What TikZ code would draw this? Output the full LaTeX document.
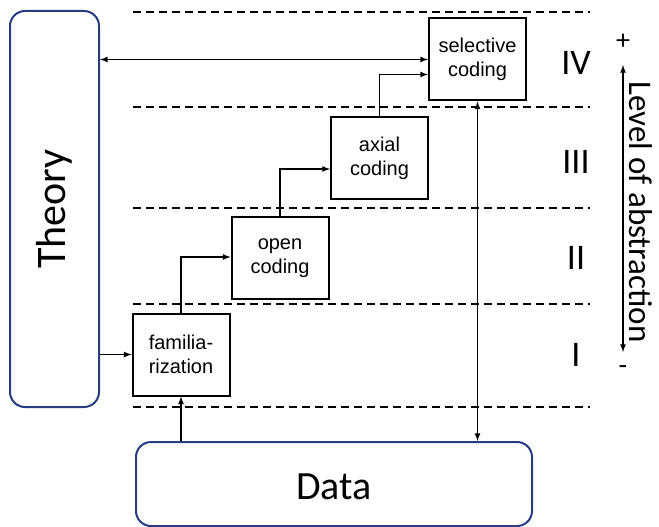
\documentclass[tikz,border=0pt]{standalone}
\usepackage{fontspec}
\setmainfont{Carlito}
\newfontfamily\boxfont{Liberation Sans}
\usetikzlibrary{positioning,calc}
\definecolor{framenavy}{RGB}{40,60,130}

\begin{document}
\begin{tikzpicture}[
  x=1pt,y=-1pt,
  every path/.style={>=latex},
  conn/.style={draw,line width=1.6pt},
  stepbox/.style={draw,rectangle,line width=2pt,minimum width=97pt,minimum height=82pt,
    inner sep=0pt,align=center,font=\boxfont\fontsize{20}{24}\selectfont},
  bigbox/.style={draw=framenavy,rounded corners=15pt,line width=2pt,inner sep=0pt},
  level/.style={font=\fontsize{36}{40}\selectfont},
  dashline/.style={dashed,dash pattern=on 8pt off 5pt,line width=1.5pt},
  ]
  \useasboundingbox (0,0) rectangle (659,527);
  \node[bigbox,minimum width=89pt,minimum height=396pt] (theory) at (54.5,209) {};
  \node[rotate=90,font=\fontsize{42}{46}\selectfont] at (theory) {Theory};
  \node[bigbox,minimum width=396pt,minimum height=84pt] (data) at (334,484) {};
  \node[font=\fontsize{40}{44}\selectfont] at ([yshift=-3pt]data) {Data};
  \foreach \y in {12,107,208,304,407}
    \draw[dashline] (133,\y) -- (590,\y);
  \node[stepbox] (familiar) at (181,354.5) {familia-\\rization};
  \node[stepbox] (opencod) at (280,258) {open\\coding};
  \node[stepbox] (axialcod) at (379.5,158) {axial\\coding};
  \node[stepbox] (selectcod) at (477.5,59.5) {selective\\coding};
  \node[level] at (576,63) {IV};
  \node[level] at (576,162) {III};
  \node[level] at (576,258) {II};
  \node[level] at (576,355) {I};
  \coordinate (lvltop) at (623,65);
  \coordinate (lvlbot) at (623,352);
  \node[font=\fontsize{28}{30}\selectfont] (plus) at (623,42) {+};
  \node[font=\fontsize{28}{30}\selectfont] (minus) at (623,370) {-};
  \node[rotate=-90,font=\fontsize{33}{36}\selectfont] (abstr) at (641,212) {Level of abstraction};
  \draw[conn,<->] (theory.east |- selectcod.west) -- (selectcod.west);
  \draw[conn,->] (theory.east |- familiar.west) -- (familiar.west);
  \draw[conn,->] (data.north -| familiar.south) -- (familiar.south);
  \draw[conn,<->] (selectcod.south) -- (selectcod.south |- data.north);
  \draw[conn,<->] (lvlbot) -- (lvltop);
  \draw[conn,->] (familiar.north) |- ([yshift=1pt]opencod.west);
  \draw[conn,->] (opencod.north) |- ([yshift=-11pt]axialcod.west);
  \draw[conn,->] (axialcod.north) |- ([yshift=-15pt]selectcod.west);
\end{tikzpicture}
\end{document}
